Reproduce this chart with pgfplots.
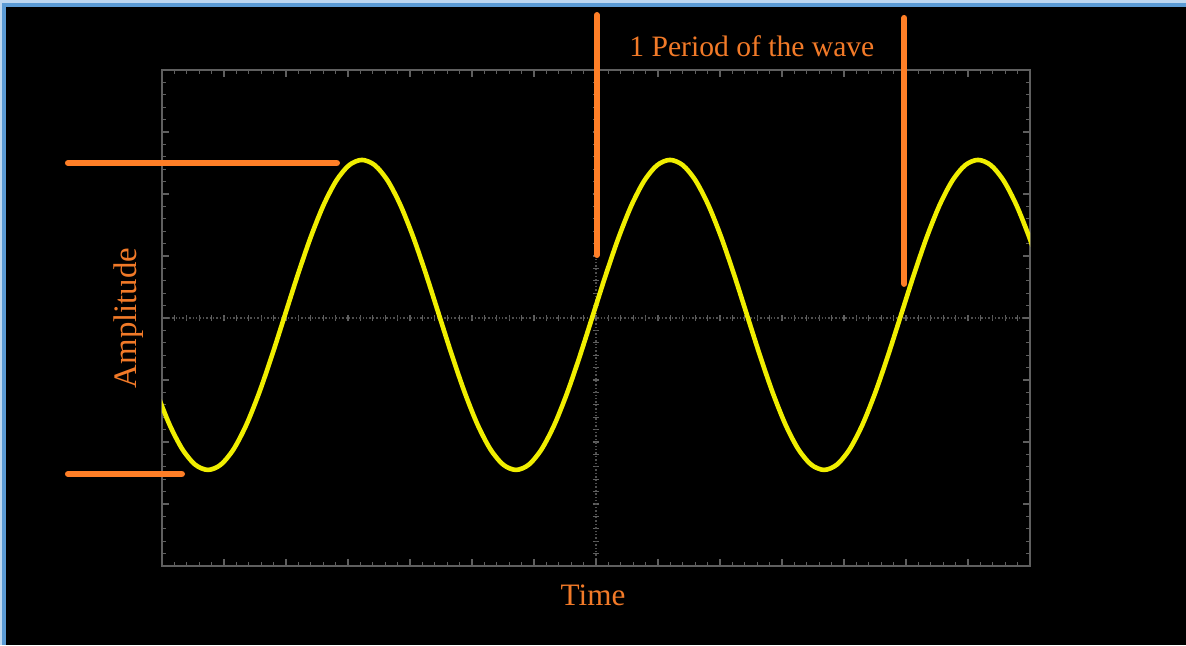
\documentclass[border=0pt]{standalone}
\usepackage{fontspec}
\setmainfont{Liberation Serif}
\usepackage{pgfplots}
\usepackage{pgfplotstable}
\pgfplotsset{compat=1.18}
\definecolor{wave}{RGB}{240,238,0}
\definecolor{orng}{RGB}{255,127,39}
\definecolor{otext}{RGB}{242,122,40}
\definecolor{gridgray}{RGB}{95,95,95}
\definecolor{bord}{RGB}{91,155,213}
\definecolor{bordlight}{RGB}{190,215,240}

\pgfplotstableread{
x y
-510.2 -1.20
-495.3 -1.718
-480.4 -2.115
-465.5 -2.365
-450.6 -2.45
-435.7 -2.365
-420.8 -2.115
-405.9 -1.718
-391.0 -1.20
-376.1 -0.597
-361.2 0.05
-346.3 0.697
-331.4 1.30
-316.5 1.818
-301.6 2.215
-286.7 2.465
-271.8 2.55
-256.9 2.465
-241.9 2.215
-227.0 1.818
-212.1 1.30
-197.2 0.697
-182.3 0.05
-167.4 -0.597
-152.5 -1.20
-137.6 -1.718
-122.7 -2.115
-107.8 -2.365
-92.9 -2.45
-78.0 -2.365
-63.1 -2.115
-48.2 -1.718
-33.3 -1.20
-18.4 -0.597
-3.5 0.05
11.4 0.697
26.3 1.30
41.2 1.818
56.1 2.215
71.0 2.465
85.9 2.55
100.8 2.465
115.7 2.215
130.6 1.818
145.5 1.30
160.4 0.697
175.3 0.05
190.2 -0.597
205.1 -1.20
220.0 -1.718
234.9 -2.115
249.9 -2.365
264.8 -2.45
279.7 -2.365
294.6 -2.115
309.5 -1.718
324.4 -1.20
339.3 -0.597
354.2 0.05
369.1 0.697
384.0 1.30
398.9 1.818
413.8 2.215
428.7 2.465
443.6 2.55
458.5 2.465
473.4 2.215
488.3 1.818
503.2 1.30
518.1 0.697
}\wavedata

\begin{document}
\begin{tikzpicture}
% background and border
\fill[black] (-81pt,-39.5pt) rectangle (512pt,283pt);
\fill[bordlight] (-81pt,281.5pt) rectangle (512pt,283pt);
\fill[bord] (-81pt,279.5pt) rectangle (512pt,281.5pt);
\fill[bordlight] (-81pt,-39.5pt) rectangle (-80pt,283pt);
\fill[bord] (-80pt,-39.5pt) rectangle (-78pt,281.5pt);

% centre crosshair with ticks
\begin{axis}[scale only axis, width=434pt, height=248pt,
  xmin=-504, xmax=504, ymin=-4, ymax=4,
  axis lines=middle,
  axis line style={-, gridgray!110, densely dotted, line width=0.7pt},
  xtick={-504,-432,...,504}, ytick={-4,-3,...,4},
  minor xtick={-504,-489.6,...,504}, minor ytick={-4,-3.8,...,4},
  xticklabels={}, yticklabels={},
  tick align=center, major tick length=3.2pt, minor tick length=3.2pt,
  tick style={gridgray, line width=0.6pt, solid},
  minor tick style={gridgray, line width=0.6pt, solid},
]
\addplot[draw=none] coordinates {(0,0)};
\end{axis}

% frame, wave and annotations
\begin{axis}[scale only axis, width=434pt, height=248pt,
  xmin=-504, xmax=504, ymin=-4, ymax=4, clip mode=individual,
  axis line style={gridgray, line width=0.8pt},
  xtick={-504,-432,...,504}, ytick={-4,-3,...,4},
  minor xtick={-504,-489.6,...,504}, minor ytick={-4,-3.8,...,4},
  xticklabels={}, yticklabels={},
  tick align=inside, major tick length=3.5pt, minor tick length=2.2pt,
  tick style={gridgray, line width=0.6pt},
  minor tick style={gridgray, line width=0.6pt},
]
\addplot[wave, line width=2.3pt, smooth] table[x=x,y=y] {\wavedata};
\draw[orng, line width=3.2pt, line cap=round] (axis cs:-613,2.5) -- (axis cs:-301,2.5);
\draw[orng, line width=3.2pt, line cap=round] (axis cs:-613,-2.516) -- (axis cs:-481,-2.516);
\draw[orng, line width=3pt, line cap=round] (axis cs:1,4.887) -- (axis cs:1,1.016);
\draw[orng, line width=3pt, line cap=round] (axis cs:358,4.84) -- (axis cs:358,0.55);
\node[otext, font=\fontsize{14.8}{17}\selectfont] at (axis cs:181,4.387) {1 Period of the wave};
\node[otext, font=\fontsize{15.6}{18}\selectfont] at (axis cs:-3.5,-4.48) {Time};
\node[otext, rotate=90, font=\fontsize{16.4}{19}\selectfont] at (axis cs:-543,0) {Amplitude};
\end{axis}
\end{tikzpicture}
\end{document}
